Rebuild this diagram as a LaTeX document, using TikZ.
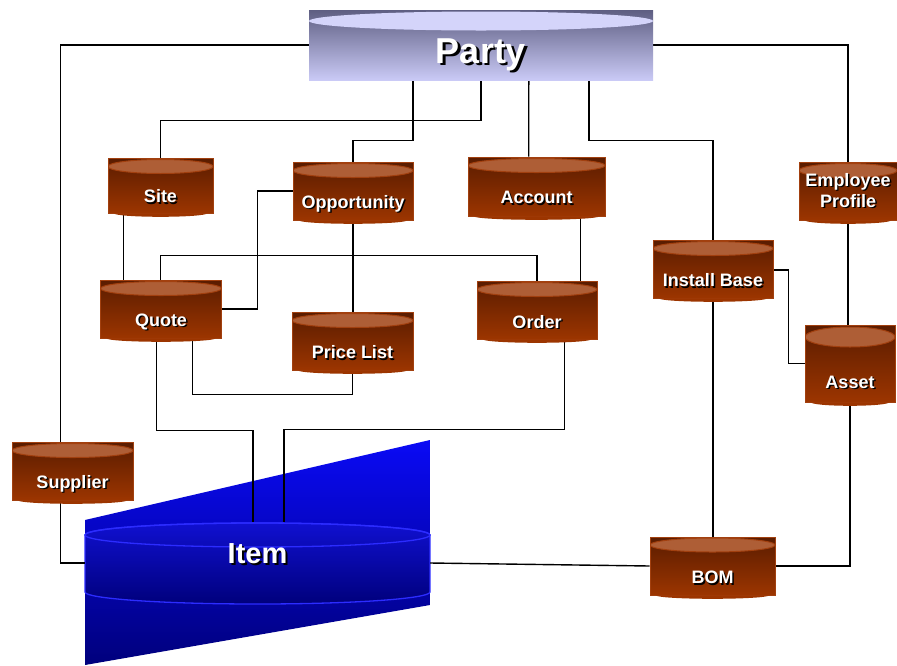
\documentclass[tikz,border=0pt]{standalone}
\usepackage{fontspec}
\setmainfont{Liberation Sans}
\usetikzlibrary{calc}

\definecolor{brdark}{HTML}{5A1C00}
\definecolor{brlight}{HTML}{9C3500}
\definecolor{brtop}{HTML}{AE5E36}
\definecolor{bredge}{HTML}{A2400F}
\definecolor{ptdark}{HTML}{5E5E82}
\definecolor{ptlight}{HTML}{CACAF6}
\definecolor{pttop}{HTML}{D4D4FA}
\definecolor{itbright}{HTML}{0A0AF5}
\definecolor{itdark}{HTML}{00007C}
\definecolor{itbody}{HTML}{1010D0}
\definecolor{itedge}{HTML}{2C2CFF}

\pgfdeclarelayer{back}
\pgfdeclarelayer{wires}
\pgfsetlayers{back,wires,main}

% white text with a dark drop shadow
\newcommand\shtext[2][1.5pt]{\makebox[0pt][l]{\kern#1\raisebox{-#1}{\color{black}#2}}#2}

\tikzset{
  db/.style n args={4}{rectangle, inner sep=0pt, minimum width=#1, minimum height=#2,
    top color=brdark, bottom color=brlight, draw=bredge, line width=0.6pt,
    path picture={\fill[brtop,draw=bredge,line width=1pt]
      ([yshift=-#3]path picture bounding box.north) ellipse [x radius=#1/2, y radius=#4];}},
  partybox/.style={rectangle, inner sep=0pt, minimum width=344pt, minimum height=70pt,
    top color=ptdark, bottom color=ptlight,
    path picture={\fill[pttop]
      ([yshift=-11pt]path picture bounding box.north) ellipse [x radius=172pt, y radius=9.5pt];}},
  lab/.style={text=white, inner sep=0pt, font=\bfseries\fontsize{18}{21}\selectfont},
  wire/.style={draw=black, line width=1.4pt},
}

\begin{document}
\begin{tikzpicture}[x=1pt,y=-1pt]
\useasboundingbox (0,0) rectangle (897,665);

% ---------- entities ----------
\node[partybox, label={[text=white,inner sep=0pt,font=\bfseries\fontsize{36}{40}\selectfont,yshift=-11pt]center:\shtext[2.5pt]{Party}}] (party) at (481,45) {};

\node[db={105pt}{55pt}{8.5pt}{7pt}, label={[lab,yshift=-11.5pt]center:\shtext{Site}}] (site) at (160.5,185.5) {};
\node[db={120pt}{58pt}{8.5pt}{7pt}, label={[lab,yshift=-13.5pt]center:\shtext{Opportunity}}] (opp) at (353,191) {};
\node[db={137pt}{59pt}{8.5pt}{7pt}, label={[lab,yshift=-12pt]center:\shtext{Account}}] (account) at (536.5,186.5) {};
\node[db={98pt}{58pt}{8.5pt}{7pt}, label={[lab,align=center]center:{\shtext{Employee}\\\shtext{Profile}}}] (ep) at (848,191) {};
\node[db={121pt}{58pt}{8.5pt}{7pt}, label={[lab,yshift=-13.5pt]center:\shtext{Quote}}] (quote) at (161,309) {};
\node[db={121pt}{58pt}{8.5pt}{7pt}, label={[lab,yshift=-12pt]center:\shtext{Price List}}] (pl) at (352.5,341) {};
\node[db={120pt}{58pt}{8.5pt}{7pt}, label={[lab,yshift=-12.5pt]center:\shtext{Order}}] (order) at (537,310) {};
\node[db={120pt}{58pt}{8.5pt}{7pt}, label={[lab,yshift=-12pt]center:\shtext{Install Base}}] (ib) at (713,269) {};
\node[db={90pt}{77pt}{12pt}{10pt}, label={[lab,yshift=-19.5pt]center:\shtext{Asset}}] (asset) at (850,363.5) {};
\node[db={121pt}{58pt}{8.5pt}{7pt}, label={[lab,yshift=-13.5pt]center:\shtext{Supplier}}] (sup) at (72.5,471) {};
\node[db={125pt}{58pt}{8pt}{7pt}, label={[lab,yshift=-12.5pt]center:\shtext{BOM}}] (bom) at (712.5,566) {};

% rounded bottoms of the brown cylinders
\foreach \n/\w in {site/105,opp/120,account/137,ep/98,quote/121,pl/121,order/120,ib/120,asset/90,sup/121,bom/125}{
  \fill[brlight] ($(\n.south)+(-\w/2+6,0)$) arc[start angle=180,end angle=360,x radius={(\w/2-6)*1pt},y radius=3.5pt];
}

% Item: outlined cylinder on a slanted blue panel
\node[rectangle, inner sep=0pt, minimum width=345pt, minimum height=82pt,
      label={[text=white,inner sep=0pt,font=\bfseries\fontsize{29}{32}\selectfont,yshift=8pt]center:\shtext[2pt]{Item}}] (item) at (257.5,563) {};

\begin{pgfonlayer}{back}
  \shade[top color=itbright, bottom color=itdark] (85,520) -- (430,440) -- (430,605) -- (85,665) -- cycle;
  \shade[top color=itbody, bottom color=itdark, draw=itedge, line width=1.3pt]
    (85,535) -- (85,592) arc[start angle=180,end angle=360,x radius=172.5pt,y radius=12pt]
    -- (430,535) arc[start angle=0,end angle=180,x radius=172.5pt,y radius=12pt] -- cycle;
  \draw[itedge, line width=1.3pt] (257.5,535) ellipse[x radius=172.5pt,y radius=12pt];
\end{pgfonlayer}

% ---------- connectors ----------
\coordinate (acc1) at ($(account.south west)+(113,0)$);
\begin{pgfonlayer}{wires}
  \draw[wire] ($(party.south west)+(172,0)$) -- ++(0,40) -| (site.north);
  \draw[wire] ($(party.south west)+(104,0)$) -- ++(0,60) -| (opp.north);
  \draw[wire] ($(party.south west)+(220,0)$) -- ($(account.north west)+(61,0)$);
  \draw[wire] ($(party.south west)+(280,0)$) -- ++(0,60) -| (ib.north);
  \draw[wire] (party.west) -| ($(sup.north west)+(49,0)$);
  \draw[wire] (party.east) -| (ep.north);
  \draw[wire] ($(site.south west)+(16,0)$) -- ($(quote.north west)+(23.5,0)$);
  \draw[wire] (opp.west) -- ++(-35,0) |- (quote.east);
  \draw[wire] (opp.south) -- (opp.south |- pl.north);
  \draw[wire] ($(quote.north west)+(60.5,0)$) -- ++(0,-24) -| (order.north);
  \draw[wire] (acc1) -- (acc1 |- order.north);
  \draw[wire] ($(quote.south west)+(92.5,0)$) -- ++(0,56) -| (pl.south);
  \draw[wire] ($(quote.south west)+(56.5,0)$) -- ++(0,92) -| ($(item.north west)+(168,0)$);
  \draw[wire] ($(order.south west)+(88,0)$) -- ++(0,90) -| ($(item.north west)+(199,0)$);
  \draw[wire] (ib.south) -- (ib.south |- bom.north);
  \draw[wire] ($(ib.east)+(0,1)$) -- ++(15,0) |- (asset.west);
  \draw[wire] (ep.south) -- (ep.south |- asset.north);
  \draw[wire] (asset.south) |- (bom.east);
  \draw[wire] ($(sup.south west)+(49,0)$) |- (item.west);
  \draw[wire] (item.east) -- (bom.west);
\end{pgfonlayer}
\end{tikzpicture}
\end{document}
